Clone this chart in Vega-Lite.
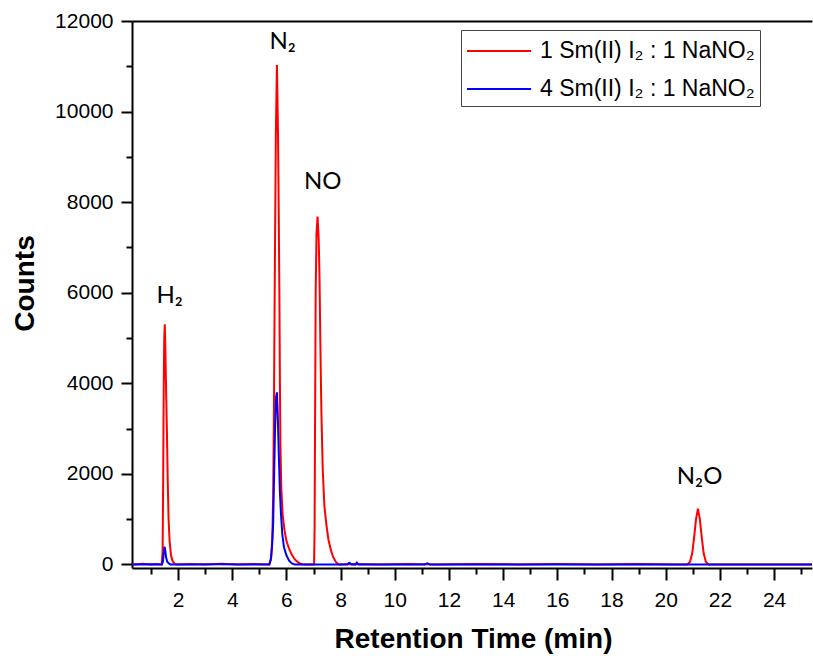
{
  "$schema": "https://vega.github.io/schema/vega-lite/v6.json",
  "autosize": {"type": "none"},
  "padding": {"left": 132, "top": 21, "right": 1, "bottom": 88},
  "width": 680,
  "height": 547,
  "background": "white",
  "config": {
    "view": {"stroke": null},
    "axis": {
      "grid": false,
      "domainColor": "black",
      "domainWidth": 2,
      "tickColor": "black",
      "tickWidth": 2,
      "labelColor": "black",
      "labelFont": "Liberation Sans",
      "labelFontSize": 21,
      "titleFont": "Liberation Sans",
      "titleFontWeight": "bold",
      "titleFontSize": 28,
      "titleColor": "black"
    }
  },
  "resolve": {"axis": {"x": "independent", "y": "independent"}, "scale": {"x": "shared", "y": "shared"}},
  "datasets": {
    "curves": [
      {"series": "1 Sm(II) I₂ : 1 NaNO₂", "t": 0.3, "v": 0},
      {"series": "1 Sm(II) I₂ : 1 NaNO₂", "t": 0.7, "v": 15},
      {"series": "1 Sm(II) I₂ : 1 NaNO₂", "t": 1.0, "v": 0},
      {"series": "1 Sm(II) I₂ : 1 NaNO₂", "t": 1.2, "v": 10},
      {"series": "1 Sm(II) I₂ : 1 NaNO₂", "t": 1.4, "v": 0},
      {"series": "1 Sm(II) I₂ : 1 NaNO₂", "t": 1.43, "v": 300},
      {"series": "1 Sm(II) I₂ : 1 NaNO₂", "t": 1.45, "v": 1800},
      {"series": "1 Sm(II) I₂ : 1 NaNO₂", "t": 1.47, "v": 3800},
      {"series": "1 Sm(II) I₂ : 1 NaNO₂", "t": 1.49, "v": 5000},
      {"series": "1 Sm(II) I₂ : 1 NaNO₂", "t": 1.51, "v": 5300},
      {"series": "1 Sm(II) I₂ : 1 NaNO₂", "t": 1.53, "v": 4800},
      {"series": "1 Sm(II) I₂ : 1 NaNO₂", "t": 1.56, "v": 3800},
      {"series": "1 Sm(II) I₂ : 1 NaNO₂", "t": 1.59, "v": 2900},
      {"series": "1 Sm(II) I₂ : 1 NaNO₂", "t": 1.62, "v": 1800},
      {"series": "1 Sm(II) I₂ : 1 NaNO₂", "t": 1.65, "v": 1000},
      {"series": "1 Sm(II) I₂ : 1 NaNO₂", "t": 1.69, "v": 500},
      {"series": "1 Sm(II) I₂ : 1 NaNO₂", "t": 1.74, "v": 200},
      {"series": "1 Sm(II) I₂ : 1 NaNO₂", "t": 1.8, "v": 70},
      {"series": "1 Sm(II) I₂ : 1 NaNO₂", "t": 1.88, "v": 10},
      {"series": "1 Sm(II) I₂ : 1 NaNO₂", "t": 1.95, "v": 0},
      {"series": "1 Sm(II) I₂ : 1 NaNO₂", "t": 2.5, "v": 10},
      {"series": "1 Sm(II) I₂ : 1 NaNO₂", "t": 3.0, "v": 0},
      {"series": "1 Sm(II) I₂ : 1 NaNO₂", "t": 3.6, "v": 12},
      {"series": "1 Sm(II) I₂ : 1 NaNO₂", "t": 4.2, "v": 0},
      {"series": "1 Sm(II) I₂ : 1 NaNO₂", "t": 4.8, "v": 8},
      {"series": "1 Sm(II) I₂ : 1 NaNO₂", "t": 5.38, "v": 0},
      {"series": "1 Sm(II) I₂ : 1 NaNO₂", "t": 5.44, "v": 150},
      {"series": "1 Sm(II) I₂ : 1 NaNO₂", "t": 5.48, "v": 600},
      {"series": "1 Sm(II) I₂ : 1 NaNO₂", "t": 5.51, "v": 1500},
      {"series": "1 Sm(II) I₂ : 1 NaNO₂", "t": 5.54, "v": 3500},
      {"series": "1 Sm(II) I₂ : 1 NaNO₂", "t": 5.57, "v": 6300},
      {"series": "1 Sm(II) I₂ : 1 NaNO₂", "t": 5.61, "v": 9500},
      {"series": "1 Sm(II) I₂ : 1 NaNO₂", "t": 5.65, "v": 11030},
      {"series": "1 Sm(II) I₂ : 1 NaNO₂", "t": 5.69, "v": 9500},
      {"series": "1 Sm(II) I₂ : 1 NaNO₂", "t": 5.72, "v": 7500},
      {"series": "1 Sm(II) I₂ : 1 NaNO₂", "t": 5.74, "v": 6000},
      {"series": "1 Sm(II) I₂ : 1 NaNO₂", "t": 5.76, "v": 4000},
      {"series": "1 Sm(II) I₂ : 1 NaNO₂", "t": 5.78, "v": 2600},
      {"series": "1 Sm(II) I₂ : 1 NaNO₂", "t": 5.81, "v": 1700},
      {"series": "1 Sm(II) I₂ : 1 NaNO₂", "t": 5.86, "v": 1100},
      {"series": "1 Sm(II) I₂ : 1 NaNO₂", "t": 5.93, "v": 750},
      {"series": "1 Sm(II) I₂ : 1 NaNO₂", "t": 6.0, "v": 520},
      {"series": "1 Sm(II) I₂ : 1 NaNO₂", "t": 6.1, "v": 340},
      {"series": "1 Sm(II) I₂ : 1 NaNO₂", "t": 6.2, "v": 210},
      {"series": "1 Sm(II) I₂ : 1 NaNO₂", "t": 6.3, "v": 120},
      {"series": "1 Sm(II) I₂ : 1 NaNO₂", "t": 6.4, "v": 60},
      {"series": "1 Sm(II) I₂ : 1 NaNO₂", "t": 6.5, "v": 20},
      {"series": "1 Sm(II) I₂ : 1 NaNO₂", "t": 6.6, "v": 0},
      {"series": "1 Sm(II) I₂ : 1 NaNO₂", "t": 7.02, "v": 0},
      {"series": "1 Sm(II) I₂ : 1 NaNO₂", "t": 7.04, "v": 800},
      {"series": "1 Sm(II) I₂ : 1 NaNO₂", "t": 7.06, "v": 3500},
      {"series": "1 Sm(II) I₂ : 1 NaNO₂", "t": 7.08, "v": 6000},
      {"series": "1 Sm(II) I₂ : 1 NaNO₂", "t": 7.11, "v": 7300},
      {"series": "1 Sm(II) I₂ : 1 NaNO₂", "t": 7.15, "v": 7680},
      {"series": "1 Sm(II) I₂ : 1 NaNO₂", "t": 7.19, "v": 7200},
      {"series": "1 Sm(II) I₂ : 1 NaNO₂", "t": 7.22, "v": 6400},
      {"series": "1 Sm(II) I₂ : 1 NaNO₂", "t": 7.25, "v": 5000},
      {"series": "1 Sm(II) I₂ : 1 NaNO₂", "t": 7.29, "v": 3400},
      {"series": "1 Sm(II) I₂ : 1 NaNO₂", "t": 7.34, "v": 2100},
      {"series": "1 Sm(II) I₂ : 1 NaNO₂", "t": 7.4, "v": 1300},
      {"series": "1 Sm(II) I₂ : 1 NaNO₂", "t": 7.47, "v": 900},
      {"series": "1 Sm(II) I₂ : 1 NaNO₂", "t": 7.55, "v": 550},
      {"series": "1 Sm(II) I₂ : 1 NaNO₂", "t": 7.64, "v": 320},
      {"series": "1 Sm(II) I₂ : 1 NaNO₂", "t": 7.72, "v": 170},
      {"series": "1 Sm(II) I₂ : 1 NaNO₂", "t": 7.82, "v": 60},
      {"series": "1 Sm(II) I₂ : 1 NaNO₂", "t": 7.92, "v": 0},
      {"series": "1 Sm(II) I₂ : 1 NaNO₂", "t": 8.5, "v": 10},
      {"series": "1 Sm(II) I₂ : 1 NaNO₂", "t": 9.5, "v": 0},
      {"series": "1 Sm(II) I₂ : 1 NaNO₂", "t": 10.5, "v": 8},
      {"series": "1 Sm(II) I₂ : 1 NaNO₂", "t": 11.5, "v": 0},
      {"series": "1 Sm(II) I₂ : 1 NaNO₂", "t": 13.0, "v": 10},
      {"series": "1 Sm(II) I₂ : 1 NaNO₂", "t": 14.5, "v": 0},
      {"series": "1 Sm(II) I₂ : 1 NaNO₂", "t": 16.0, "v": 8},
      {"series": "1 Sm(II) I₂ : 1 NaNO₂", "t": 17.5, "v": 0},
      {"series": "1 Sm(II) I₂ : 1 NaNO₂", "t": 19.0, "v": 10},
      {"series": "1 Sm(II) I₂ : 1 NaNO₂", "t": 20.3, "v": 0},
      {"series": "1 Sm(II) I₂ : 1 NaNO₂", "t": 20.8, "v": 0},
      {"series": "1 Sm(II) I₂ : 1 NaNO₂", "t": 20.9, "v": 60},
      {"series": "1 Sm(II) I₂ : 1 NaNO₂", "t": 20.98, "v": 250},
      {"series": "1 Sm(II) I₂ : 1 NaNO₂", "t": 21.05, "v": 600},
      {"series": "1 Sm(II) I₂ : 1 NaNO₂", "t": 21.12, "v": 1000},
      {"series": "1 Sm(II) I₂ : 1 NaNO₂", "t": 21.19, "v": 1230},
      {"series": "1 Sm(II) I₂ : 1 NaNO₂", "t": 21.26, "v": 1000},
      {"series": "1 Sm(II) I₂ : 1 NaNO₂", "t": 21.33, "v": 600},
      {"series": "1 Sm(II) I₂ : 1 NaNO₂", "t": 21.4, "v": 250},
      {"series": "1 Sm(II) I₂ : 1 NaNO₂", "t": 21.48, "v": 60},
      {"series": "1 Sm(II) I₂ : 1 NaNO₂", "t": 21.58, "v": 0},
      {"series": "1 Sm(II) I₂ : 1 NaNO₂", "t": 22.5, "v": 0},
      {"series": "1 Sm(II) I₂ : 1 NaNO₂", "t": 24.0, "v": 0},
      {"series": "1 Sm(II) I₂ : 1 NaNO₂", "t": 25.4, "v": 0},
      {"series": "4 Sm(II) I₂ : 1 NaNO₂", "t": 0.3, "v": 0},
      {"series": "4 Sm(II) I₂ : 1 NaNO₂", "t": 1.0, "v": 5},
      {"series": "4 Sm(II) I₂ : 1 NaNO₂", "t": 1.4, "v": 0},
      {"series": "4 Sm(II) I₂ : 1 NaNO₂", "t": 1.44, "v": 60},
      {"series": "4 Sm(II) I₂ : 1 NaNO₂", "t": 1.47, "v": 250},
      {"series": "4 Sm(II) I₂ : 1 NaNO₂", "t": 1.5, "v": 390},
      {"series": "4 Sm(II) I₂ : 1 NaNO₂", "t": 1.53, "v": 300},
      {"series": "4 Sm(II) I₂ : 1 NaNO₂", "t": 1.56, "v": 150},
      {"series": "4 Sm(II) I₂ : 1 NaNO₂", "t": 1.6, "v": 60},
      {"series": "4 Sm(II) I₂ : 1 NaNO₂", "t": 1.66, "v": 20},
      {"series": "4 Sm(II) I₂ : 1 NaNO₂", "t": 1.72, "v": 0},
      {"series": "4 Sm(II) I₂ : 1 NaNO₂", "t": 2.5, "v": 0},
      {"series": "4 Sm(II) I₂ : 1 NaNO₂", "t": 3.5, "v": 5},
      {"series": "4 Sm(II) I₂ : 1 NaNO₂", "t": 4.5, "v": 0},
      {"series": "4 Sm(II) I₂ : 1 NaNO₂", "t": 5.36, "v": 0},
      {"series": "4 Sm(II) I₂ : 1 NaNO₂", "t": 5.42, "v": 100},
      {"series": "4 Sm(II) I₂ : 1 NaNO₂", "t": 5.47, "v": 400},
      {"series": "4 Sm(II) I₂ : 1 NaNO₂", "t": 5.51, "v": 900},
      {"series": "4 Sm(II) I₂ : 1 NaNO₂", "t": 5.54, "v": 1800},
      {"series": "4 Sm(II) I₂ : 1 NaNO₂", "t": 5.58, "v": 3000},
      {"series": "4 Sm(II) I₂ : 1 NaNO₂", "t": 5.62, "v": 3700},
      {"series": "4 Sm(II) I₂ : 1 NaNO₂", "t": 5.65, "v": 3800},
      {"series": "4 Sm(II) I₂ : 1 NaNO₂", "t": 5.68, "v": 3300},
      {"series": "4 Sm(II) I₂ : 1 NaNO₂", "t": 5.72, "v": 2400},
      {"series": "4 Sm(II) I₂ : 1 NaNO₂", "t": 5.76, "v": 1600},
      {"series": "4 Sm(II) I₂ : 1 NaNO₂", "t": 5.8, "v": 1100},
      {"series": "4 Sm(II) I₂ : 1 NaNO₂", "t": 5.85, "v": 650},
      {"series": "4 Sm(II) I₂ : 1 NaNO₂", "t": 5.91, "v": 380},
      {"series": "4 Sm(II) I₂ : 1 NaNO₂", "t": 6.0, "v": 200},
      {"series": "4 Sm(II) I₂ : 1 NaNO₂", "t": 6.1, "v": 80},
      {"series": "4 Sm(II) I₂ : 1 NaNO₂", "t": 6.2, "v": 20},
      {"series": "4 Sm(II) I₂ : 1 NaNO₂", "t": 6.3, "v": 0},
      {"series": "4 Sm(II) I₂ : 1 NaNO₂", "t": 8.25, "v": 0},
      {"series": "4 Sm(II) I₂ : 1 NaNO₂", "t": 8.32, "v": 35},
      {"series": "4 Sm(II) I₂ : 1 NaNO₂", "t": 8.4, "v": 0},
      {"series": "4 Sm(II) I₂ : 1 NaNO₂", "t": 8.55, "v": 0},
      {"series": "4 Sm(II) I₂ : 1 NaNO₂", "t": 8.6, "v": 40},
      {"series": "4 Sm(II) I₂ : 1 NaNO₂", "t": 8.66, "v": 0},
      {"series": "4 Sm(II) I₂ : 1 NaNO₂", "t": 11.1, "v": 0},
      {"series": "4 Sm(II) I₂ : 1 NaNO₂", "t": 11.2, "v": 25},
      {"series": "4 Sm(II) I₂ : 1 NaNO₂", "t": 11.3, "v": 0},
      {"series": "4 Sm(II) I₂ : 1 NaNO₂", "t": 16.0, "v": 0},
      {"series": "4 Sm(II) I₂ : 1 NaNO₂", "t": 20.0, "v": 0},
      {"series": "4 Sm(II) I₂ : 1 NaNO₂", "t": 25.4, "v": 0}
    ],
    "labels": [
      {"t": 1.69, "v": 5920, "label": "H₂"},
      {"t": 5.86, "v": 11530, "label": "N₂"},
      {"t": 7.34, "v": 8440, "label": "NO"},
      {"t": 21.25, "v": 1930, "label": "N₂O"}
    ]
  },
  "layer": [
    {
      "data": {"name": "curves"},
      "mark": {"type": "line", "strokeWidth": 2, "interpolate": "linear", "clip": true},
      "encoding": {
        "x": {
          "field": "t", "type": "quantitative",
          "scale": {"domain": [0.3, 25.4], "nice": false, "zero": false},
          "axis": {
            "orient": "bottom",
            "title": "Retention Time (min)",
            "values": [2, 4, 6, 8, 10, 12, 14, 16, 18, 20, 22, 24],
            "tickSize": 12, "labelPadding": 9,
            "titleBaseline": "alphabetic", "titleY": 79, "titleAnchor": "middle", "titleX": 341
          }
        },
        "y": {
          "field": "v", "type": "quantitative",
          "scale": {"domain": [-80, 12000], "nice": false, "zero": false},
          "axis": {
            "orient": "left",
            "title": "Counts",
            "values": [0, 2000, 4000, 6000, 8000, 10000, 12000],
            "format": "d",
            "tickSize": 11, "labelPadding": 8,
            "titleAngle": -90, "titleBaseline": "alphabetic", "titleAlign": "center",
            "titleX": -99, "titleY": 262
          }
        },
        "color": {
          "field": "series", "type": "nominal",
          "scale": {
            "domain": ["1 Sm(II) I₂ : 1 NaNO₂", "4 Sm(II) I₂ : 1 NaNO₂"],
            "range": ["#ff0000", "#0000ff"]
          },
          "legend": {
            "title": null,
            "orient": "none",
            "legendX": 329,
            "legendY": 9,
            "padding": 5,
            "strokeColor": "#444444",
            "fillColor": "white",
            "symbolType": "M-1,0H3.27",
            "symbolSize": 900,
            "symbolStrokeWidth": 2,
            "rowPadding": 10,
            "labelOffset": 42,
            "labelFont": "Liberation Sans",
            "labelFontSize": 23,
            "labelColor": "black",
            "labelLimit": 400
          }
        }
      }
    },
    {
      "data": {"name": "labels"},
      "mark": {"type": "text", "font": "Lato", "fontSize": 24, "color": "black", "baseline": "middle", "align": "center"},
      "encoding": {
        "x": {
          "field": "t", "type": "quantitative",
          "axis": {
            "orient": "bottom",
            "title": null, "labels": false, "domain": false,
            "values": [1, 3, 5, 7, 9, 11, 13, 15, 17, 19, 21, 23, 25],
            "tickSize": 6
          }
        },
        "y": {
          "field": "v", "type": "quantitative",
          "axis": {
            "orient": "left",
            "title": null, "labels": false, "domain": false,
            "values": [1000, 3000, 5000, 7000, 9000, 11000],
            "tickSize": 6
          }
        },
        "text": {"field": "label", "type": "nominal"}
      }
    },
    {
      "data": {"name": "labels"},
      "mark": {"type": "point", "opacity": 0},
      "encoding": {
        "x": {
          "field": "t", "type": "quantitative",
          "axis": {"orient": "top", "title": null, "labels": false, "ticks": false, "domain": true}
        },
        "y": {
          "field": "v", "type": "quantitative",
          "axis": null
        }
      }
    }
  ]
}
